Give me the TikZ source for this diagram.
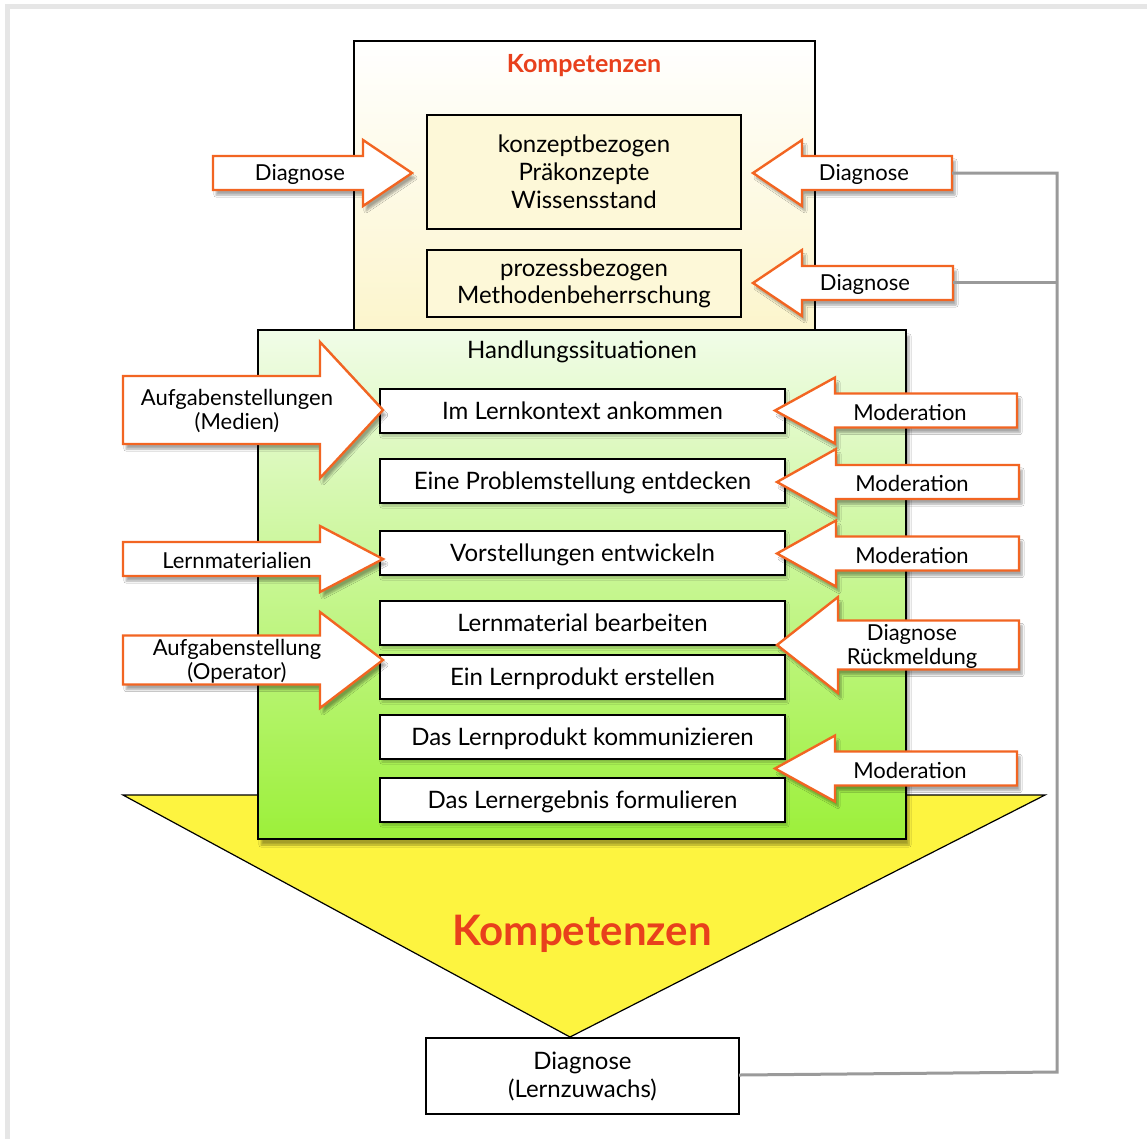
\documentclass[tikz,border=0pt]{standalone}
\usepackage{fontspec}
\setmainfont{Lato}
\usetikzlibrary{shadows.blur}
\definecolor{orangeA}{HTML}{F26522}
\definecolor{redT}{HTML}{E8401C}
\definecolor{grayL}{HTML}{9A9A9A}
\definecolor{frameG}{HTML}{E6E6E6}
\definecolor{yelTop}{HTML}{FFFFFF}
\definecolor{yelBot}{HTML}{FCF5CC}
\definecolor{yelBox}{HTML}{FDF8D8}
\definecolor{grnTop}{HTML}{F1FCE8}
\definecolor{grnBot}{HTML}{9CF03A}
\definecolor{triY}{HTML}{FDF440}
\newcommand{\blockarr}[9]{%
  \draw[blockarrow] (#2,#5-#6) -- (#3,#5-#6) -- (#3,#5-#7) -- (#4,#5) -- (#3,#5+#7) -- (#3,#5+#6) -- (#2,#5+#6) -- cycle;
  \node[atext] (#1) at (#8,#5+1.5) {#9};
}
\begin{document}
\begin{tikzpicture}[x=1pt,y=-1pt,
  blockarrow/.style={draw=orangeA, line width=2.4pt, fill=white, line join=miter,
    blur shadow={shadow xshift=3pt, shadow yshift=-5pt, shadow blur steps=6, shadow opacity=35}},
  atext/.style={align=center, inner sep=0pt, font=\fontsize{22}{24}\selectfont},
  stepbox/.style={draw=black, line width=1.5pt, fill=white, inner sep=0pt, align=center,
    minimum width=405pt, minimum height=44pt, text height=18pt, text depth=1pt, font=\fontsize{24}{26}\selectfont,
    blur shadow={shadow xshift=2pt, shadow yshift=-3pt, shadow blur steps=4, shadow opacity=25}},
  kbox/.style={draw=black, line width=1.5pt, fill=yelBox, inner sep=0pt, align=center, minimum width=314pt},
  conn/.style={draw=grayL, line width=3pt}
]
\useasboundingbox (0,0) rectangle (1147,1138);
\clip (0,0) rectangle (1147,1138);
\fill[white] (0,0) rectangle (1147,1138);
\draw[frameG, line width=5pt] (7.5,6) rectangle (1170,1160);

% triangle
\draw[black, line width=1.2pt, fill=triY] (123,795) -- (1045,795) -- (570,1037) -- cycle;

% top Kompetenzen box
\draw[black, line width=1.5pt, top color=yelTop, bottom color=yelBot] (354,41) rectangle (815,330);
\node[text=redT, font=\bfseries\fontsize{25}{28}\selectfont] (ktitle) at (584,66) {Kompetenzen};
\node[kbox, minimum height=114pt, font=\fontsize{24}{28}\selectfont] (k1) at (584,172) {konzeptbezogen\\Präkonzepte\\Wissensstand};
\node[kbox, minimum height=67pt, font=\fontsize{24}{27}\selectfont] (k2) at (584,283.5) {prozessbezogen\\Methodenbeherrschung};

% green box
\draw[black, line width=1.5pt, top color=grnTop, bottom color=grnBot,
  blur shadow={shadow xshift=3pt, shadow yshift=-6pt, shadow blur steps=6, shadow opacity=35}] (258,330) rectangle (906,839);
\node[font=\fontsize{24}{26}\selectfont] (htitle) at (582,352) {Handlungssituationen};

\node[stepbox] (s1) at (582.5,411) {Im Lernkontext ankommen};
\node[stepbox] (s2) at (582.5,481) {Eine Problemstellung entdecken};
\node[stepbox] (s3) at (582.5,553) {Vorstellungen entwickeln};
\node[stepbox] (s4) at (582.5,623) {Lernmaterial bearbeiten};
\node[stepbox] (s5) at (582.5,677) {Ein Lernprodukt erstellen};
\node[stepbox] (s6) at (582.5,737) {Das Lernprodukt kommunizieren};
\node[stepbox] (s7) at (582.5,800) {Das Lernergebnis formulieren};

% big Kompetenzen
\node[text=redT, font=\bfseries\fontsize{42}{46}\selectfont] (kbig) at (582,934) {Kompetenzen};

% bottom box
\node[draw=black, line width=1.5pt, fill=white, inner sep=0pt, align=center, minimum width=313pt, minimum height=76pt,
  font=\fontsize{24}{28}\selectfont] (lz) at (582.5,1076) {Diagnose\\(Lernzuwachs)};

% left arrows
\blockarr{la1}{213}{363}{412}{173}{17}{33}{300}{Diagnose}
\blockarr{la2}{123}{320}{383}{410}{34}{68}{237}{Aufgabenstellungen\\(Medien)}
\blockarr{la3}{123}{320}{383}{559}{17}{33}{237}{Lernmaterialien}
\blockarr{la4}{123}{320}{383}{660}{24.5}{48}{237}{Aufgabenstellung\\(Operator)}

% right arrows
\blockarr{ra1}{952}{802}{753}{173}{17}{33}{864}{Diagnose}
\blockarr{ra2}{953}{802}{753}{283}{17}{33}{865}{Diagnose}
\blockarr{ra3}{1017}{835}{775}{410.5}{17}{33}{910}{Moderation}
\blockarr{ra4}{1019}{836}{777}{482}{17}{33}{912}{Moderation}
\blockarr{ra5}{1019}{836}{777}{553.5}{17}{33}{912}{Moderation}
\blockarr{ra6}{1019}{838}{777}{645}{24.5}{48}{912}{Diagnose\\Rückmeldung}
\blockarr{ra7}{1017}{835}{775}{768.5}{17}{33}{910}{Moderation}

% gray connectors
\coordinate (e1) at (952,173);
\coordinate (e2) at (953,282);
\coordinate (j1) at (1057,173);
\coordinate (j2) at (1057,282);
\coordinate (j3) at (1057,1072);
\coordinate (lzr) at (739,1075);
\draw[conn] (e1) -- (j1) -- (j3) -- (lzr);
\draw[conn] (e2) -- (j2);
\end{tikzpicture}
\end{document}
